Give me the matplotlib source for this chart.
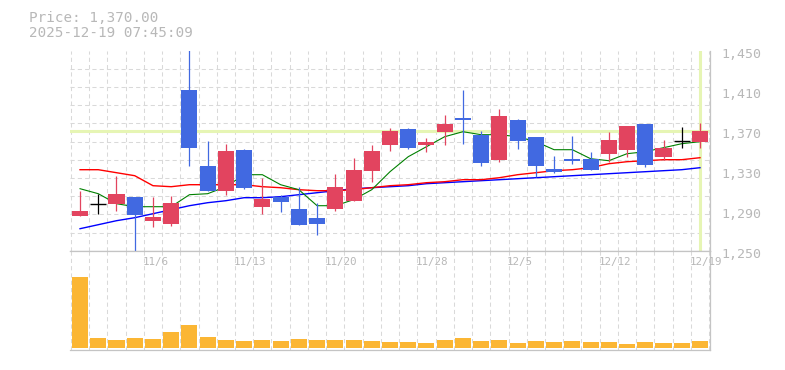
import numpy as np
import matplotlib
matplotlib.use("Agg")
import matplotlib.pyplot as plt
from matplotlib.transforms import blended_transform_factory, ScaledTranslation

# daily candles, 10/30 .. 12/19
opens = [1285, 1297, 1297, 1304, 1280, 1277, 1411, 1335, 1310, 1351, 1294, 1304, 1292, 1283, 1292, 1300, 1330, 1356,
         1372, 1356, 1369, 1383, 1366, 1341, 1381, 1364, 1332, 1342, 1342, 1347, 1351, 1377, 1344, 1360, 1359]
closes = [1290, 1297, 1307, 1286, 1284, 1298, 1353, 1310, 1350, 1313, 1302, 1299, 1276, 1277, 1314, 1331, 1350, 1370,
          1353, 1359, 1377, 1381, 1338, 1385, 1360, 1335, 1329, 1340, 1331, 1361, 1375, 1336, 1353, 1360, 1370]
highs = [1310, 1307, 1325, 1304, 1304, 1305, 1452, 1360, 1357, 1352, 1323, 1306, 1314, 1298, 1327, 1343, 1356, 1373,
         1373, 1363, 1386, 1411, 1370, 1392, 1382, 1364, 1345, 1365, 1349, 1369, 1375, 1377, 1361, 1374, 1378]
lows = [1285, 1287, 1290, 1248, 1274, 1275, 1335, 1310, 1306, 1312, 1287, 1289, 1276, 1266, 1290, 1300, 1319, 1350,
        1352, 1349, 1356, 1357, 1335, 1339, 1352, 1324, 1328, 1337, 1331, 1339, 1344, 1334, 1341, 1353, 1353]

# moving averages
ma_short = [1312, 1307, 1297, 1294, 1294, 1294, 1306, 1307, 1314, 1326, 1326, 1316, 1311, 1295, 1295, 1301, 1311, 1329,
            1344, 1354, 1364, 1369, 1366, 1366, 1364, 1359, 1351, 1351, 1342, 1340, 1347, 1349, 1353, 1357, 1359]
ma_mid = [1331, 1331, 1328, 1325, 1315, 1314, 1316, 1316, 1316, 1316, 1314, 1313, 1311, 1310, 1310, 1311, 1313, 1315,
          1316, 1318, 1319, 1321, 1321, 1323, 1326, 1328, 1330, 1331, 1333, 1337, 1339, 1340, 1341, 1341, 1343]
ma_long = [1272, 1276, 1280, 1283, 1287, 1291, 1295, 1298, 1300, 1303, 1303, 1304, 1306, 1308, 1310, 1312, 1313, 1314,
           1315, 1317, 1318, 1319, 1320, 1321, 1322, 1323, 1324, 1325, 1326, 1327, 1328, 1329, 1330, 1331, 1333]

volumes = [71, 10, 8, 10, 9, 16, 23, 11, 8, 7, 8, 7, 9, 8, 8, 8, 7, 6, 6, 5, 8, 10, 7, 8, 5, 7, 6, 7, 6, 6, 4, 6, 5, 5, 7]

label_idx = [4, 9, 14, 19, 24, 29, 34]
date_labels = ["11/6", "11/13", "11/20", "11/28", "12/5", "12/12", "12/19"]
price_ticks = [1250, 1290, 1330, 1370, 1410, 1450]
last_price = 1370

UP = "#e2445f"
DOWN = "#4169e1"
VOL = "#fbb634"
HILITE = "#e6f5b4"
TXT = "#b8b8b8"
EDGE = "#c4c4c4"
GRID = "#d9d9d9"

plt.rcParams["font.family"] = "DejaVu Sans Mono"

fig = plt.figure(figsize=(7.85, 3.7), dpi=100)
ax = fig.add_axes([70 / 785, 119.3 / 370, 640 / 785, 200 / 370])
axv = fig.add_axes([70 / 785, 19.7 / 370, 640 / 785, 99.6 / 370])

n = len(closes)
x = np.arange(n)
w = 0.88

for a in (ax, axv):
    a.set_xlim(-0.55, n - 0.45)
    a.set_xticks([])
    a.set_xticks(np.arange(n + 1) - 0.5, minor=True)
    for s in ("left", "top"):
        a.spines[s].set_visible(False)
    for s in ("right", "bottom"):
        a.spines[s].set_color(EDGE)
        a.spines[s].set_linewidth(0.9)
    a.tick_params(which="both", length=0)
    a.grid(which="minor", axis="x", color=GRID, linestyle=(0, (4, 3)), linewidth=0.75)
    a.set_axisbelow(True)

axv.spines["top"].set_visible(True)
axv.spines["top"].set_color(EDGE)
axv.spines["top"].set_linewidth(0.9)

# price panel
ax.set_ylim(1250, 1450)
ax.yaxis.tick_right()
ax.set_yticks(price_ticks)
ax.set_yticklabels([f"{p:,}" for p in price_ticks])
ax.set_yticks(np.linspace(1250, 1450, 12), minor=True)
ax.tick_params(axis="y", which="major", pad=8, labelsize=9.5, labelcolor=TXT)
ax.grid(which="minor", axis="y", color=GRID, linestyle=(0, (4, 3)), linewidth=0.75)
shift = ScaledTranslation(0, -2 / 100, fig.dpi_scale_trans)
for lbl in ax.get_yticklabels():
    lbl.set_transform(lbl.get_transform() + shift)

ax.axhline(last_price, color=HILITE, linewidth=2.2, zorder=1)
ax.axvline(x[-1], color=HILITE, linewidth=2.2, zorder=1)

ax.plot(x, ma_long, color="#0000ff", linewidth=1.0, zorder=2)
ax.plot(x, ma_mid, color="#ff0000", linewidth=1.0, zorder=2)
ax.plot(x, ma_short, color="#008000", linewidth=0.8, zorder=2)

for i in range(n):
    o, c, h, l = opens[i], closes[i], highs[i], lows[i]
    if c > o:
        col = UP
    elif c < o:
        col = DOWN
    else:
        col = "black"
    ax.vlines(x[i], l, h, color=col, linewidth=0.9, zorder=3)
    if c == o:
        ax.hlines(c, x[i] - w / 2, x[i] + w / 2, color=col, linewidth=1.0, zorder=4)
    else:
        ax.bar(x[i], abs(c - o), bottom=min(o, c), width=w, color=col, zorder=4)

# volume panel
axv.bar(x, volumes, width=w, color=VOL, zorder=3)
axv.set_ylim(-2.3, 97.3)
axv.set_yticks([])

tr = blended_transform_factory(axv.transData, axv.transAxes)
for i, lab in zip(label_idx, date_labels):
    axv.text(i - 0.58, 0.89, lab, transform=tr, ha="left", va="center", fontsize=7.8, color=TXT)

fig.text(29 / 785, 1 - 17.7 / 370, f"Price: {last_price:,.2f}", ha="left", va="center", fontsize=10.3, color=TXT)
fig.text(29 / 785, 1 - 33 / 370, "2025-12-19 07:45:09", ha="left", va="center", fontsize=10.3, color=TXT)

fig.savefig("out.png", dpi=100)
